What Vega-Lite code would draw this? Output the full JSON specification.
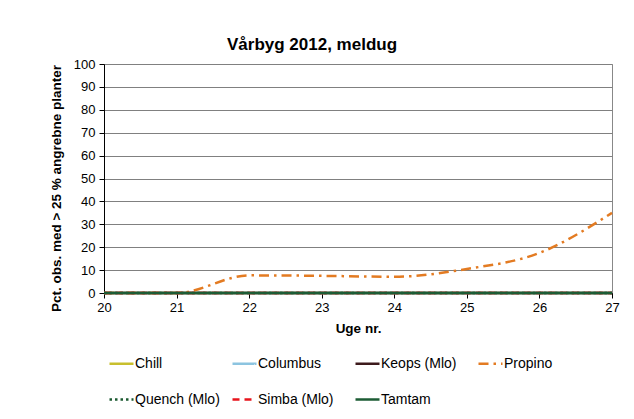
{
  "$schema": "https://vega.github.io/schema/vega-lite/v6.json",
  "autosize": "none",
  "width": 508,
  "height": 229,
  "padding": {"left": 104, "right": 22, "top": 64, "bottom": 126},
  "background": "white",
  "title": {"text": "Vårbyg 2012, meldug", "font": "Liberation Sans", "fontSize": 17, "fontWeight": "bold", "color": "#000", "anchor": "middle", "dx": -46, "offset": 4},
  "config": {
    "font": "Liberation Sans",
    "view": {"stroke": "#888888", "strokeWidth": 1},
    "axis": {"labelFont": "Liberation Sans", "labelFontSize": 13, "labelColor": "#000", "titleFont": "Liberation Sans", "titleFontSize": 13.5, "titleFontWeight": "bold", "titleColor": "#000", "domainColor": "#000", "tickColor": "#000", "tickSize": 5, "gridColor": "#808080", "gridWidth": 1, "labelFlush": false}
  },
  "data": {"values": [
    {"serie": "Chill", "uge": 20, "pct": 0}, {"serie": "Chill", "uge": 21, "pct": 0}, {"serie": "Chill", "uge": 22, "pct": 0}, {"serie": "Chill", "uge": 23, "pct": 0}, {"serie": "Chill", "uge": 24, "pct": 0}, {"serie": "Chill", "uge": 25, "pct": 0}, {"serie": "Chill", "uge": 26, "pct": 0}, {"serie": "Chill", "uge": 27, "pct": 0},
    {"serie": "Columbus", "uge": 20, "pct": 0}, {"serie": "Columbus", "uge": 21, "pct": 0}, {"serie": "Columbus", "uge": 22, "pct": 0}, {"serie": "Columbus", "uge": 23, "pct": 0}, {"serie": "Columbus", "uge": 24, "pct": 0}, {"serie": "Columbus", "uge": 25, "pct": 0}, {"serie": "Columbus", "uge": 26, "pct": 0}, {"serie": "Columbus", "uge": 27, "pct": 0},
    {"serie": "Keops (Mlo)", "uge": 20, "pct": 0}, {"serie": "Keops (Mlo)", "uge": 21, "pct": 0}, {"serie": "Keops (Mlo)", "uge": 22, "pct": 0}, {"serie": "Keops (Mlo)", "uge": 23, "pct": 0}, {"serie": "Keops (Mlo)", "uge": 24, "pct": 0}, {"serie": "Keops (Mlo)", "uge": 25, "pct": 0}, {"serie": "Keops (Mlo)", "uge": 26, "pct": 0}, {"serie": "Keops (Mlo)", "uge": 27, "pct": 0},
    {"serie": "Propino", "uge": 20, "pct": 0}, {"serie": "Propino", "uge": 21, "pct": 0}, {"serie": "Propino", "uge": 22, "pct": 7.7}, {"serie": "Propino", "uge": 23, "pct": 7.5}, {"serie": "Propino", "uge": 24, "pct": 7.1}, {"serie": "Propino", "uge": 25, "pct": 10.5}, {"serie": "Propino", "uge": 26, "pct": 17.5}, {"serie": "Propino", "uge": 27, "pct": 35},
    {"serie": "Quench (Mlo)", "uge": 20, "pct": 0}, {"serie": "Quench (Mlo)", "uge": 21, "pct": 0}, {"serie": "Quench (Mlo)", "uge": 22, "pct": 0}, {"serie": "Quench (Mlo)", "uge": 23, "pct": 0}, {"serie": "Quench (Mlo)", "uge": 24, "pct": 0}, {"serie": "Quench (Mlo)", "uge": 25, "pct": 0}, {"serie": "Quench (Mlo)", "uge": 26, "pct": 0}, {"serie": "Quench (Mlo)", "uge": 27, "pct": 0},
    {"serie": "Simba (Mlo)", "uge": 20, "pct": 0}, {"serie": "Simba (Mlo)", "uge": 21, "pct": 0}, {"serie": "Simba (Mlo)", "uge": 22, "pct": 0}, {"serie": "Simba (Mlo)", "uge": 23, "pct": 0}, {"serie": "Simba (Mlo)", "uge": 24, "pct": 0}, {"serie": "Simba (Mlo)", "uge": 25, "pct": 0}, {"serie": "Simba (Mlo)", "uge": 26, "pct": 0}, {"serie": "Simba (Mlo)", "uge": 27, "pct": 0},
    {"serie": "Tamtam", "uge": 20, "pct": 0}, {"serie": "Tamtam", "uge": 21, "pct": 0}, {"serie": "Tamtam", "uge": 22, "pct": 0}, {"serie": "Tamtam", "uge": 23, "pct": 0}, {"serie": "Tamtam", "uge": 24, "pct": 0}, {"serie": "Tamtam", "uge": 25, "pct": 0}, {"serie": "Tamtam", "uge": 26, "pct": 0}, {"serie": "Tamtam", "uge": 27, "pct": 0}
  ]},
  "mark": {"type": "line", "interpolate": "monotone", "strokeWidth": 2.5, "clip": false},
  "encoding": {
    "x": {"field": "uge", "type": "quantitative", "scale": {"domain": [20, 27], "nice": false, "zero": false}, "axis": {"title": "Uge nr.", "values": [20, 21, 22, 23, 24, 25, 26, 27], "grid": false, "labelPadding": 3, "titlePadding": 7}},
    "y": {"field": "pct", "type": "quantitative", "scale": {"domain": [0, 100], "nice": false}, "axis": {"title": "Pct. obs. med > 25 % angrebne planter", "values": [0, 10, 20, 30, 40, 50, 60, 70, 80, 90, 100], "labelPadding": 4, "titlePadding": 10, "titleY": 124}},
    "color": {"field": "serie", "type": "nominal",
      "scale": {"domain": ["Chill", "Columbus", "Keops (Mlo)", "Propino", "Quench (Mlo)", "Simba (Mlo)", "Tamtam"], "range": ["#c8bf2e", "#8cc4e0", "#3d1a1c", "#e37b22", "#1b5a30", "#e8141c", "#1d5c35"]},
      "legend": {"title": null, "orient": "none", "direction": "horizontal", "legendX": 4, "legendY": 286, "columns": 4, "gridAlign": "all", "symbolType": "stroke", "symbolSize": 576, "symbolStrokeWidth": 2.5, "labelOffset": 0, "labelFont": "Liberation Sans", "labelFontSize": 14, "labelColor": "#000", "columnPadding": 7, "rowPadding": 15}},
    "strokeDash": {"field": "serie", "type": "nominal",
      "scale": {"domain": ["Chill", "Columbus", "Keops (Mlo)", "Propino", "Quench (Mlo)", "Simba (Mlo)", "Tamtam"], "range": [[1, 0], [1, 0], [1, 0], [10, 5, 2.5, 5], [2.5, 3], [7, 5], [1, 0]]},
      "legend": {"title": null, "orient": "none", "direction": "horizontal", "legendX": 4, "legendY": 286, "columns": 4, "gridAlign": "all", "symbolType": "stroke", "symbolSize": 576, "symbolStrokeWidth": 2.5, "labelOffset": 0, "labelFont": "Liberation Sans", "labelFontSize": 14, "labelColor": "#000", "columnPadding": 7, "rowPadding": 15}}
  }
}
